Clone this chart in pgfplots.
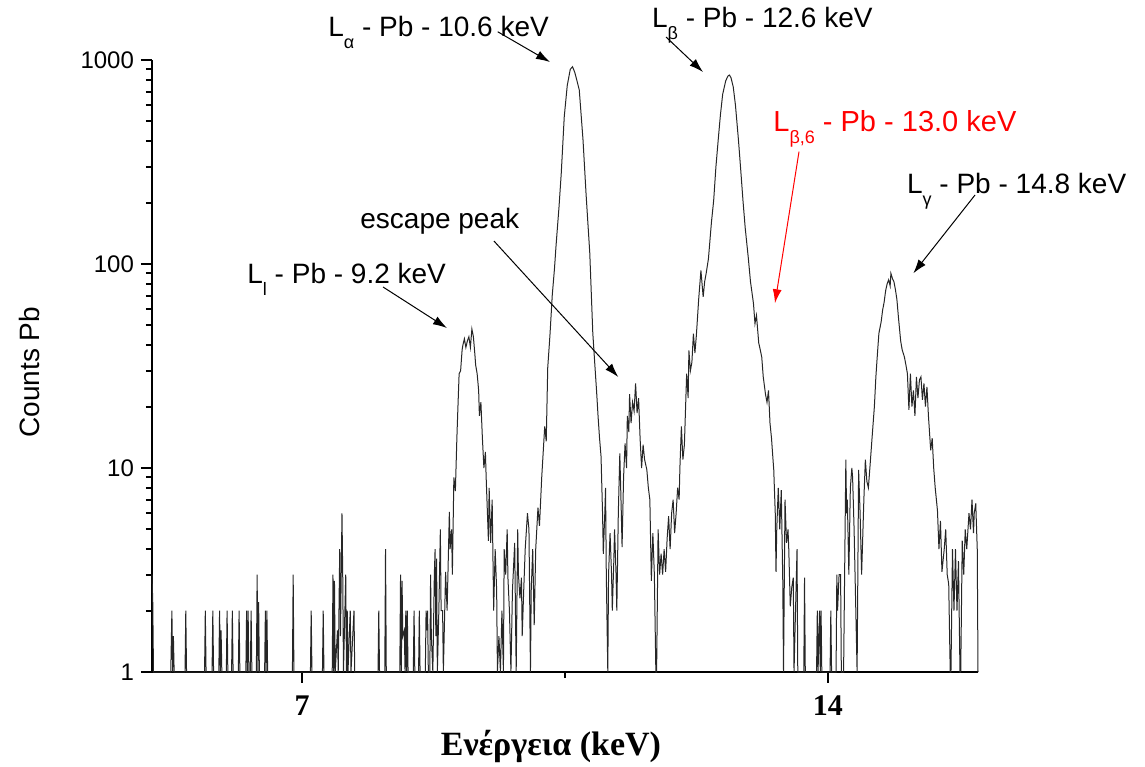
\documentclass[border=0pt]{standalone}
\usepackage{fontspec}
\setmainfont{Liberation Sans}
\newfontfamily\serifbf{Liberation Serif}
\usepackage{pgfplots}
\pgfplotsset{compat=1.18}
\usetikzlibrary{arrows.meta}

% lowered subscript used in the line labels
\newcommand{\lsub}[1]{\raisebox{-6pt}{\fontsize{9}{9}\selectfont #1}}
\newcommand{\anno}{\fontsize{14}{16}\selectfont}
\tikzset{arr/.style={line width=0.5pt, -{Latex[length=7pt,width=4.5pt]}}}

\begin{document}
\begin{tikzpicture}
\begin{axis}[
  at={(0,0)}, anchor=south west,
  scale only axis, width=413pt, height=306pt,
  xmin=5, xmax=16, ymin=1, ymax=1000,
  ymode=log, log basis y=10,
  axis x line*=bottom, axis y line*=left,
  axis line style={-, line width=1pt},
  tick align=outside,
  xtick={7,14}, minor xtick={10.5},
  ytick={1,10,100,1000},
  minor ytick={2,3,4,5,6,7,8,9,20,30,40,50,60,70,80,90,200,300,400,500,600,700,800,900},
  log ticks with fixed point,
  /pgf/number format/assume math mode=true,
  /pgf/number format/1000 sep={},
  major tick length=5.5pt, minor tick length=3pt,
  every tick/.style={black, line width=1pt},
  xticklabel style={font=\fontsize{15}{15}\selectfont\serifbf\bfseries, yshift=-3pt},
  yticklabel style={font=\fontsize{12}{12}\selectfont},
  xlabel={Ενέργεια (keV)},
  xlabel style={at={(axis description cs:0.483,-0.122)}, anchor=center,
    font=\fontsize{17}{17}\selectfont\serifbf\bfseries},
  ylabel={Counts Pb},
  ylabel style={at={(axis description cs:-0.148,0.49)}, anchor=center,
    font=\fontsize{14}{14}\selectfont},
  clip=false,
]
\addplot[black!85, line width=0.5pt] table {
x y
5.00 3
5.01 2.2
5.02 1
5.25 1
5.265 2
5.275 1
5.285 1.5
5.295 1
5.44 1
5.45 2
5.46 1
5.70 1
5.71 2
5.72 1
5.80 1
5.81 2
5.82 1
5.89 1
5.90 2
5.91 1
5.92 1.6
5.93 1
5.99 1
6.00 2
6.01 1
6.06 1
6.07 2
6.08 1
6.15 1
6.16 2
6.17 1
6.25 1
6.26 2
6.27 1
6.28 2
6.29 1
6.31 1
6.32 2
6.33 1
6.39 1
6.40 3
6.41 1
6.42 2.2
6.43 1
6.50 1
6.51 2
6.52 1
6.53 2
6.54 1
6.87 1
6.88 3
6.89 1
7.11 1
7.12 2
7.13 1
7.27 1
7.28 2
7.29 1
7.40 1
7.41 3
7.42 1
7.43 2.8
7.44 1
7.47 1.6
7.48 1
7.50 4
7.51 1.5
7.53 6
7.54 3
7.55 1
7.58 3
7.59 1
7.60 2
7.61 1
7.64 2
7.65 1
7.69 2
7.70 1
8.01 1
8.02 2
8.03 1
8.10 1
8.11 4
8.12 1
8.30 1
8.31 3
8.32 1
8.33 2.8
8.34 1.5
8.36 1.6
8.37 1
8.38 2
8.39 1
8.40 2
8.41 1
8.48 1
8.49 2
8.50 1
8.55 1
8.56 2
8.57 1
8.64 1
8.65 2
8.66 1.6
8.67 2
8.68 1
8.70 1
8.71 3
8.72 1.5
8.74 1
8.76 3
8.77 4
8.78 1.5
8.79 3.6
8.80 1
8.82 2
8.84 5
8.85 2
8.87 2
8.88 1
8.91 3.1
8.93 2
8.96 6.1
8.97 4
8.99 5
9.00 3
9.02 9
9.04 7.7
9.06 14
9.07 18
9.09 29
9.11 30
9.13 38
9.14 40
9.16 43
9.18 39
9.20 42
9.22 44
9.24 39
9.26 48
9.28 44
9.30 36
9.31 32
9.33 29
9.35 24
9.36 18
9.38 21
9.40 14
9.42 10
9.44 12
9.45 9
9.48 4.4
9.49 8
9.51 4.3
9.53 7
9.55 2
9.57 4
9.59 2.5
9.60 1
9.62 1.5
9.64 1
9.66 2
9.68 1
9.69 4
9.71 3
9.73 5
9.74 2.9
9.76 2
9.78 1
9.80 2.5
9.83 4.3
9.84 2
9.85 1
9.87 5
9.88 3
9.90 2.3
9.92 2.9
9.93 1.5
9.95 2.5
9.97 4
10.00 6
10.02 5
10.04 1
10.05 2.5
10.07 4
10.09 1.7
10.11 4
10.14 6.4
10.16 5.2
10.19 9
10.21 12
10.23 16
10.25 13.5
10.27 31
10.30 45
10.33 70
10.36 95
10.38 122
10.42 190
10.45 278
10.49 527
10.53 750
10.57 900
10.60 927
10.63 870
10.66 790
10.69 713
10.74 405
10.78 222
10.83 113
10.87 46
10.90 31
10.92 24
10.94 18
10.96 14
10.98 11.4
11.00 6
11.01 3.8
11.03 6
11.04 8
11.05 3
11.07 1
11.08 3
11.10 4.8
11.12 3
11.13 2
11.15 3.5
11.16 5
11.18 3
11.19 2
11.21 6
11.23 11.8
11.25 6
11.26 4.1
11.28 9
11.30 13.2
11.32 10
11.33 18
11.35 15
11.36 23
11.38 16.6
11.40 21
11.42 19
11.44 26
11.46 18.6
11.48 22
11.50 14
11.52 10
11.54 13
11.56 11
11.59 9.8
11.61 8
11.63 7
11.65 2.8
11.67 4.8
11.69 3
11.71 1
11.72 1
11.74 5
11.76 3
11.78 3.8
11.80 3
11.82 4
11.84 3.1
11.86 4.5
11.88 5.8
11.90 4
11.92 6
11.94 7
11.96 4.8
11.98 6
12.00 8
12.02 7
12.03 10
12.05 16
12.07 11
12.09 13
12.12 29
12.14 22
12.15 37.7
12.17 30
12.19 33
12.21 45.6
12.23 36.6
12.25 45
12.28 67
12.31 93
12.34 69
12.36 82
12.38 90
12.41 106
12.45 160
12.48 205
12.51 300
12.54 405
12.57 540
12.60 680
12.64 790
12.67 835
12.69 844
12.71 820
12.74 740
12.77 600
12.81 405
12.84 290
12.87 205
12.90 150
12.94 108
12.97 82
13.01 64
13.03 51
13.05 56
13.08 41
13.10 38
13.12 35
13.14 28
13.17 23
13.19 21
13.21 24
13.23 16.6
13.25 14
13.27 11
13.28 9.8
13.30 6
13.31 3.1
13.32 5
13.34 8
13.36 5
13.38 7.8
13.40 2.8
13.41 1
13.43 7
13.45 4.3
13.47 5
13.48 4
13.50 2.1
13.52 2.6
13.54 2.9
13.55 1
13.57 2
13.59 4
13.60 1
13.68 1
13.69 2.9
13.70 1
13.85 1
13.86 2
13.87 1
13.89 2
13.90 1
13.91 2
13.92 1
14.03 1
14.04 2
14.05 1
14.11 1
14.12 3
14.13 2
14.15 3
14.17 3
14.18 1
14.21 1
14.24 11
14.25 6
14.26 7
14.28 3
14.30 8
14.32 10
14.33 9
14.35 5
14.39 1
14.41 9.8
14.43 6
14.45 3
14.48 7
14.50 11
14.52 8.6
14.54 8
14.56 10
14.59 14.2
14.62 20
14.64 28
14.66 36
14.68 45.7
14.71 52
14.73 59.5
14.75 65
14.77 74
14.79 80
14.81 83.6
14.83 78
14.84 90
14.86 85
14.88 82
14.90 75
14.92 67
14.94 55
14.97 42
14.99 38
15.02 35
15.04 32
15.06 29
15.08 19.3
15.10 29
15.12 20
15.14 24
15.16 18
15.18 28
15.20 22
15.22 27
15.24 28
15.26 21.6
15.28 26
15.30 20
15.32 25
15.34 18
15.37 12.2
15.39 14
15.41 10
15.43 8
15.46 6.2
15.48 4
15.50 5.5
15.52 3.1
15.55 4
15.57 5
15.59 3
15.61 2.7
15.63 1
15.64 1
15.66 4
15.68 2
15.70 4
15.72 2
15.74 3.5
15.76 1
15.77 1
15.79 4.4
15.81 3
15.83 5
15.85 4
15.88 6
15.90 5
15.92 7
15.94 4.8
15.95 6
15.97 6.7
15.99 4
16.00 1
};

% line labels with their arrows
\node[anchor=base west, font=\anno, inner sep=0pt] at (axis description cs:0.115,0.6356) {L\lsub{l} - Pb - 9.2 keV};
\draw[arr] (axis description cs:0.2797,0.6291) -- (axis description cs:0.3571,0.5621);

\node[anchor=base west, font=\anno, inner sep=0pt] at (axis description cs:0.2130,1.0390) {L\lsub{α} - Pb - 10.6 keV};
\draw[arr] (axis description cs:0.4185,1.0462) -- (axis description cs:0.4818,0.9967);

\node[anchor=base west, font=\anno, inner sep=0pt] at (axis description cs:0.6050,1.0523) {L\lsub{β} - Pb - 12.6 keV};
\draw[arr] (axis description cs:0.6223,1.0376) -- (axis description cs:0.6671,0.9804);

\node[anchor=base west, font=\fontsize{14.5}{16}\selectfont, text=red, inner sep=0pt] at (axis description cs:0.7518,0.8828) {L\lsub{β,6} - Pb - 13.0 keV};
\draw[arr, red] (axis description cs:0.7833,0.8502) -- (axis description cs:0.7542,0.6025);

\node[anchor=base west, font=\anno, inner sep=0pt] at (axis description cs:0.9137,0.7822) {L\lsub{γ} - Pb - 14.8 keV};
\draw[arr] (axis description cs:0.9964,0.7794) -- (axis description cs:0.9217,0.6515);

\node[anchor=base west, font=\anno, inner sep=0pt] at (axis description cs:0.2518,0.7239) {escape peak};
\draw[arr] (axis description cs:0.4140,0.7042) -- (axis description cs:0.5645,0.4820);
\end{axis}
\pgfresetboundingbox
\path[use as bounding box] (-76pt,-47pt) rectangle (496.5pt,336pt);
\end{tikzpicture}
\end{document}
